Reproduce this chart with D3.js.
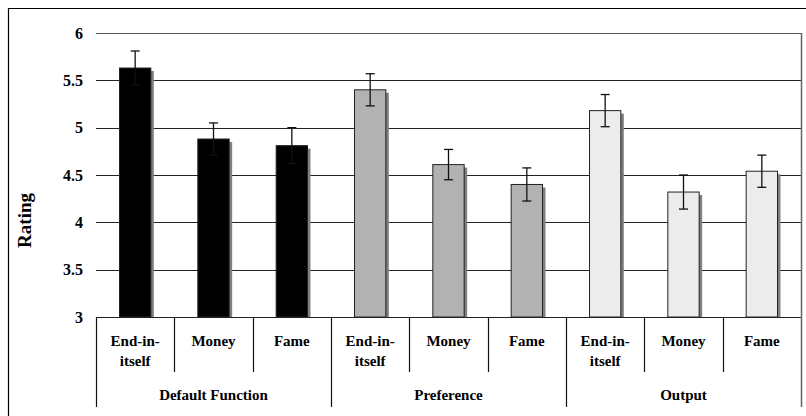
<!DOCTYPE html>
<html lang="en">
<head>
    <meta charset="UTF-8">
    <title>Rating by function</title>
    <style>
        body { margin: 0; padding: 0; background: #fff; }
        svg { display: block; }
        svg text { font-family: "Liberation Serif", "Times New Roman", Times, serif !important; font-weight: bold; fill: #000; }
    </style>
</head>
<body>
    <svg width="806" height="416"></svg>
    <script src="https://d3js.org/d3.v7.min.js"></script>
    <script>
        // chart data
        const groups = ['Default Function', 'Preference', 'Output'];
        const categories = ['End-in-itself', 'Money', 'Fame'];
        const ratings = [
            [5.63, 4.88, 4.81],
            [5.40, 4.61, 4.40],
            [5.18, 4.32, 4.54]
        ];
        const errors = [
            [0.18, 0.17, 0.19],
            [0.17, 0.16, 0.175],
            [0.17, 0.18, 0.17]
        ];
        const yTicks = [3, 3.5, 4, 4.5, 5, 5.5, 6];
        const groupColors = ['#000000', '#b2b2b2', '#ececec'];

        const width = 806, height = 416;
        const margin = { left: 96, top: 33, right: 5, bottom: 99 };
        const plotW = width - margin.left - margin.right;
        const plotH = height - margin.top - margin.bottom;

        const svg = d3.select('svg');

        // outer frame (only left and top edges fall inside the picture)
        svg.append('path')
            .attr('d', 'M8.5,' + height + 'V8.5H' + width)
            .attr('fill', 'none')
            .attr('stroke', '#000')
            .attr('stroke-width', 1.2);

        // flatten into one row per bar
        const rows = [];
        groups.forEach((g, gi) => {
            categories.forEach((c, ci) => {
                rows.push({ group: g, gi: gi, cat: c, value: ratings[gi][ci], err: errors[gi][ci] });
            });
        });

        const x = d3.scaleBand()
            .domain(d3.range(rows.length))
            .range([0, plotW])
            .paddingInner(0.6)
            .paddingOuter(0.3);
        const step = x.step();

        const y = d3.scaleLinear().domain([3, 6]).range([plotH, 0]);

        const g = svg.append('g').attr('transform', `translate(${margin.left},${margin.top})`);

        // gridlines
        g.append('g')
            .selectAll('line')
            .data(yTicks)
            .join('line')
                .attr('x1', 0)
                .attr('x2', plotW)
                .attr('y1', d => Math.round(y(d)) + 0.5)
                .attr('y2', d => Math.round(y(d)) + 0.5)
                .attr('stroke', d => d === 6 ? '#555' : '#222')
                .attr('stroke-width', 1.2);

        // right border of the plot area
        g.append('line')
            .attr('x1', plotW + 0.5).attr('x2', plotW + 0.5)
            .attr('y1', 0).attr('y2', plotH + 90)
            .attr('stroke', '#666')
            .attr('stroke-width', 1.5);

        // y axis labels
        const yAxis = g.append('g')
            .call(d3.axisLeft(y).tickValues(yTicks).tickSize(0).tickPadding(13).tickFormat(d3.format('')));
        yAxis.select('.domain').remove();
        yAxis.attr('font-family', null);
        yAxis.selectAll('text').attr('font-size', 16);

        // bar shadows
        g.append('g')
            .selectAll('rect')
            .data(rows)
            .join('rect')
                .attr('x', (d, i) => x(i) + 3)
                .attr('y', d => y(d.value) + 3)
                .attr('width', x.bandwidth())
                .attr('height', d => plotH - y(d.value) - 3)
                .attr('fill', '#808080');

        // bars
        g.append('g')
            .selectAll('rect')
            .data(rows)
            .join('rect')
                .attr('x', (d, i) => x(i))
                .attr('y', d => y(d.value))
                .attr('width', x.bandwidth())
                .attr('height', d => plotH - y(d.value))
                .attr('fill', d => groupColors[d.gi])
                .attr('stroke', '#222')
                .attr('stroke-width', 1);

        // error bars
        const eb = g.append('g').selectAll('g').data(rows).join('g')
            .attr('transform', (d, i) => `translate(${x(i) + x.bandwidth() / 2},0)`)
            .attr('stroke', '#111')
            .attr('stroke-width', 1.3);
        eb.append('line')
            .attr('y1', d => y(d.value + d.err))
            .attr('y2', d => y(d.value - d.err));
        eb.append('line')
            .attr('x1', -4.5).attr('x2', 4.5)
            .attr('y1', d => y(d.value + d.err))
            .attr('y2', d => y(d.value + d.err));
        eb.append('line')
            .attr('x1', -4.5).attr('x2', 4.5)
            .attr('y1', d => y(d.value - d.err))
            .attr('y2', d => y(d.value - d.err));

        // category separators below the axis
        const axisG = g.append('g').attr('transform', `translate(0,${plotH})`);
        axisG.selectAll('line.sep')
            .data(d3.range(rows.length))
            .join('line')
                .attr('class', 'sep')
                .attr('x1', i => Math.round(i * step) + 0.5)
                .attr('x2', i => Math.round(i * step) + 0.5)
                .attr('y1', 0)
                .attr('y2', i => i % categories.length === 0 ? 90 : 55)
                .attr('stroke', '#111')
                .attr('stroke-width', 1.2);

        // category labels
        const catText = axisG.selectAll('text.cat')
            .data(rows)
            .join('text')
                .attr('class', 'cat')
                .attr('text-anchor', 'middle')
                .attr('font-size', 15)
                .attr('x', (d, i) => (i + 0.5) * step)
                .attr('y', 29);
        catText.each(function (d) {
            const parts = d.cat === 'End-in-itself' ? ['End-in-', 'itself'] : [d.cat];
            const cx = d3.select(this).attr('x');
            d3.select(this).selectAll('tspan')
                .data(parts)
                .join('tspan')
                    .attr('x', cx)
                    .attr('dy', (p, k) => k === 0 ? 0 : 20)
                    .text(p => p);
        });

        // group labels
        axisG.selectAll('text.grp')
            .data(groups)
            .join('text')
                .attr('class', 'grp')
                .attr('text-anchor', 'middle')
                .attr('font-size', 15)
                .attr('x', (d, gi) => (gi * categories.length + categories.length / 2) * step)
                .attr('y', 83)
                .text(d => d);

        // y axis title
        svg.append('text')
            .attr('transform', `translate(31,${margin.top + plotH * 0.66}) rotate(-90)`)
            .attr('text-anchor', 'middle')
            .attr('font-size', 19)
            .text('Rating');
    </script>
</body>
</html>
